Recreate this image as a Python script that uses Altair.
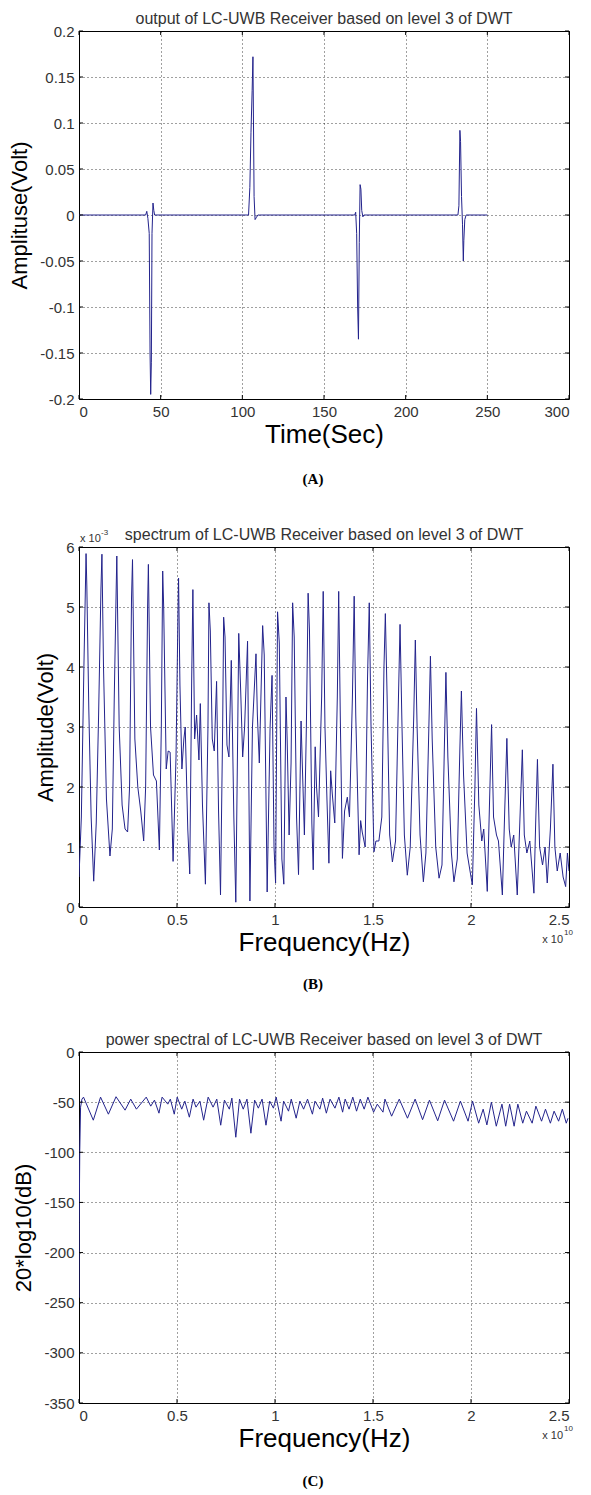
import altair as alt
import pandas as pd

# ---------------- Panel A : time-domain output ----------------
A_time = [0, 40.8, 41.5, 42.2, 43.0, 43.5, 43.9, 44.3, 44.7, 45.3, 45.8, 46.3,
          103.8, 104.6, 105.3, 106.0, 106.5, 107.2, 107.8, 108.5, 109.5, 110.5,
          168.8, 169.4, 170.0, 170.6, 171.1, 171.6, 172.1, 172.6, 173.1, 173.8, 174.4,
          232.0, 232.6, 233.2, 233.6, 234.2, 234.8, 235.3, 235.6, 236.2, 237.0, 250.0]
A_amp = [0, 0, 0.004, -0.004, -0.02, -0.15, -0.195, -0.16, -0.02, 0.013, 0.005, 0,
         0, 0.03, 0.09, 0.135, 0.172, 0.02, -0.005, -0.003, 0, 0,
         0, 0.003, -0.02, -0.1, -0.135, -0.03, 0.033, 0.028, 0.005, -0.002, 0,
         0, 0.01, 0.092, 0.08, 0.02, -0.01, -0.05, -0.028, -0.005, 0, 0]
A_xticks = [0, 50, 100, 150, 200, 250, 300]
A_yticks = [-0.2, -0.15, -0.1, -0.05, 0, 0.05, 0.1, 0.15, 0.2]

# ---------------- Panel B : amplitude spectrum (x 1e10 Hz, x 1e-3 V) ----------------
B_points = [
    (0.000, 0.5), (0.012, 1.5), (0.025, 4.0), (0.036, 5.89), (0.040, 5.35), (0.050, 3.3),
    (0.062, 1.5), (0.075, 0.43), (0.088, 1.4), (0.100, 3.2), (0.112, 5.3), (0.117, 5.88),
    (0.125, 4.0), (0.140, 1.8), (0.158, 0.85), (0.170, 1.3), (0.180, 3.5), (0.190, 5.35),
    (0.193, 5.85), (0.205, 3.0), (0.220, 1.7), (0.235, 1.3), (0.248, 1.25), (0.258, 2.0),
    (0.268, 5.15), (0.273, 5.79), (0.285, 2.8), (0.300, 2.0), (0.315, 1.6), (0.330, 1.1),
    (0.340, 2.0), (0.350, 5.0), (0.354, 5.71), (0.365, 3.0), (0.380, 2.2), (0.395, 2.1),
    (0.410, 0.95), (0.420, 3.0), (0.427, 5.6), (0.432, 5.0), (0.445, 2.3), (0.455, 2.6),
    (0.465, 2.58), (0.480, 0.76), (0.495, 2.5), (0.505, 4.9), (0.508, 5.48), (0.515, 3.7),
    (0.525, 2.3), (0.535, 2.8), (0.542, 3.0), (0.555, 1.3), (0.565, 0.55), (0.575, 3.8),
    (0.581, 5.29), (0.590, 2.8), (0.600, 3.2), (0.612, 2.45), (0.619, 3.39), (0.630, 1.7),
    (0.645, 0.38), (0.658, 3.0), (0.663, 5.07), (0.670, 4.6), (0.680, 2.8), (0.690, 2.6),
    (0.702, 3.76), (0.712, 1.6), (0.722, 0.2), (0.733, 3.0), (0.738, 4.83), (0.745, 4.5),
    (0.755, 2.7), (0.765, 2.5), (0.777, 4.11), (0.790, 1.5), (0.800, 0.08), (0.810, 3.0),
    (0.815, 4.56), (0.825, 3.6), (0.835, 2.5), (0.845, 3.0), (0.860, 4.43), (0.872, 0.1),
    (0.885, 3.0), (0.903, 4.22), (0.910, 3.2), (0.920, 2.4), (0.937, 4.69), (0.945, 4.2),
    (0.960, 0.25), (0.975, 3.0), (0.985, 3.86), (0.995, 1.0), (1.003, 0.4), (1.013, 4.92),
    (1.022, 4.4), (1.035, 0.8), (1.045, 0.38), (1.056, 3.5), (1.062, 2.8), (1.072, 1.2),
    (1.082, 2.4), (1.090, 5.07), (1.098, 4.5), (1.110, 1.5), (1.120, 0.54), (1.133, 3.1),
    (1.140, 2.3), (1.150, 1.2), (1.160, 3.0), (1.169, 5.23), (1.176, 4.6), (1.188, 1.4),
    (1.195, 0.62), (1.205, 2.67), (1.212, 2.0), (1.222, 1.5), (1.238, 3.5), (1.246, 5.26),
    (1.255, 3.0), (1.265, 1.8), (1.275, 0.73), (1.284, 2.27), (1.292, 1.9), (1.305, 1.4),
    (1.318, 3.5), (1.325, 5.26), (1.333, 3.2), (1.344, 0.81), (1.355, 1.6), (1.369, 1.83),
    (1.380, 1.5), (1.395, 3.5), (1.404, 5.18), (1.412, 3.2), (1.429, 0.87), (1.437, 1.44),
    (1.445, 1.25), (1.460, 1.0), (1.472, 3.8), (1.481, 5.07), (1.490, 3.0), (1.505, 0.92),
    (1.515, 1.1), (1.530, 1.1), (1.545, 1.5), (1.556, 4.0), (1.563, 4.89), (1.572, 3.5),
    (1.585, 1.2), (1.599, 0.75), (1.615, 1.1), (1.630, 3.5), (1.638, 4.71), (1.648, 3.0),
    (1.660, 1.2), (1.675, 0.53), (1.690, 1.0), (1.708, 3.2), (1.716, 4.45), (1.725, 3.0),
    (1.740, 1.2), (1.757, 0.42), (1.770, 0.9), (1.785, 3.0), (1.793, 4.18), (1.802, 2.8),
    (1.820, 1.0), (1.837, 0.48), (1.852, 0.7), (1.865, 2.8), (1.872, 3.91), (1.882, 2.5),
    (1.900, 0.9), (1.913, 0.42), (1.930, 0.8), (1.943, 2.6), (1.951, 3.6), (1.962, 2.2),
    (1.980, 0.9), (1.995, 0.6), (2.007, 0.37), (2.020, 2.0), (2.028, 3.31), (2.040, 1.7),
    (2.055, 1.1), (2.065, 1.3), (2.083, 0.26), (2.095, 1.8), (2.105, 3.04), (2.115, 1.5),
    (2.130, 1.2), (2.140, 1.1), (2.160, 0.2), (2.172, 1.6), (2.183, 2.81), (2.195, 1.3),
    (2.205, 1.0), (2.218, 1.2), (2.236, 0.2), (2.250, 1.5), (2.262, 2.62), (2.272, 1.2),
    (2.285, 0.9), (2.300, 1.1), (2.321, 0.23), (2.330, 1.4), (2.339, 2.46), (2.350, 1.0),
    (2.365, 0.7), (2.378, 1.0), (2.389, 0.4), (2.405, 1.3), (2.418, 2.38), (2.428, 1.0),
    (2.440, 0.6), (2.455, 0.9), (2.470, 0.5), (2.483, 0.34), (2.492, 0.9), (2.500, 0.6),
]
B_yticks = [0, 1, 2, 3, 4, 5, 6]
F_xticks = [0, 0.5, 1, 1.5, 2, 2.5]

# ---------------- Panel C : power spectrum in dB ----------------
C_points = [
    (0.000, -245), (0.001, -170), (0.004, -97), (0.008, -55), (0.015, -47), (0.023, -45),
    (0.073, -68), (0.110, -45), (0.150, -62), (0.189, -44.6), (0.235, -58), (0.264, -47),
    (0.293, -57), (0.343, -45), (0.366, -54), (0.385, -48), (0.408, -61), (0.424, -45),
    (0.453, -52), (0.466, -47), (0.486, -62), (0.501, -45), (0.524, -57), (0.540, -49),
    (0.563, -65), (0.582, -47), (0.597, -55), (0.617, -49), (0.636, -68), (0.659, -45),
    (0.684, -55), (0.703, -47), (0.723, -73), (0.742, -48), (0.767, -57), (0.780, -46),
    (0.800, -85), (0.819, -47), (0.838, -57), (0.857, -47), (0.877, -81), (0.896, -48),
    (0.915, -56), (0.934, -47), (0.954, -73), (0.973, -49), (0.992, -56), (1.006, -45),
    (1.031, -69), (1.044, -49), (1.069, -59), (1.083, -47), (1.108, -66), (1.127, -49),
    (1.146, -57), (1.166, -47), (1.191, -62), (1.204, -49), (1.229, -57), (1.243, -46),
    (1.262, -61), (1.281, -47), (1.306, -56), (1.326, -45), (1.345, -60), (1.358, -47),
    (1.378, -57), (1.397, -45), (1.416, -59), (1.435, -47), (1.455, -57), (1.474, -45),
    (1.503, -60), (1.522, -52), (1.551, -60), (1.561, -47), (1.595, -64), (1.634, -47),
    (1.676, -66), (1.715, -47), (1.753, -67.5), (1.788, -48), (1.830, -68.6), (1.865, -48),
    (1.911, -69), (1.946, -49), (1.985, -69), (2.008, -49), (2.039, -71), (2.062, -57),
    (2.081, -72.7), (2.104, -50), (2.129, -74), (2.158, -52), (2.177, -74), (2.197, -52),
    (2.220, -74), (2.239, -52), (2.264, -71), (2.283, -59), (2.312, -71), (2.331, -54),
    (2.360, -69), (2.380, -57), (2.405, -71), (2.424, -59), (2.447, -69), (2.466, -57),
    (2.486, -71), (2.495, -66),
]
C_yticks = [-350, -300, -250, -200, -150, -100, -50, 0]

# ---------------- styling ----------------
FONT = "Liberation Sans"
SERIF = "Liberation Serif"
LINE = "#23238c"
W = 490


def axis(title, values, title_size, title_pad):
    return alt.Axis(
        title=title, values=values, labelExpr="'' + datum.value",
        grid=True, gridDash=[1, 3], gridColor="#000", gridOpacity=0.75, gridWidth=1,
        tickSize=0, domain=False,
        labelFont=FONT, labelFontSize=15, labelColor="#333", labelPadding=5,
        titleFont=FONT, titleFontSize=title_size, titleFontWeight="normal",
        titleColor="#000", titlePadding=title_pad,
    )


def text_layer(txt, px, py, size, align, font=FONT, weight="normal", color="#333"):
    return alt.Chart(pd.DataFrame({"t": [txt]})).mark_text(
        font=font, fontSize=size, fontWeight=weight, align=align,
        baseline="middle", color=color).encode(
        text="t:N", x=alt.value(px), y=alt.value(py))


def panel(df, h, xdom, ydom, xticks, yticks, xtitle, ytitle, title, caption,
          cap_dy, notes):
    ax_x = axis(xtitle, xticks, 26, 2)
    ax_y = axis(ytitle, yticks, 22, 8)
    sx = alt.Scale(domain=xdom, nice=False, zero=False)
    sy = alt.Scale(domain=ydom, nice=False, zero=False)
    line = alt.Chart(df).mark_line(color=LINE, strokeWidth=1, clip=True).encode(
        x=alt.X("x:Q", scale=sx, axis=ax_x),
        y=alt.Y("y:Q", scale=sy, axis=ax_y),
    )
    xt = pd.DataFrame({"x": xticks})
    yt = pd.DataFrame({"y": yticks})
    rule = dict(color="#000", strokeWidth=1)
    tb = alt.Chart(xt).mark_rule(**rule).encode(
        x=alt.X("x:Q", scale=sx, axis=ax_x), y=alt.value(h), y2=alt.value(h - 4))
    tt = alt.Chart(xt).mark_rule(**rule).encode(
        x=alt.X("x:Q", scale=sx, axis=ax_x), y=alt.value(0), y2=alt.value(4))
    tl = alt.Chart(yt).mark_rule(**rule).encode(
        y=alt.Y("y:Q", scale=sy, axis=ax_y), x=alt.value(0), x2=alt.value(4))
    tr = alt.Chart(yt).mark_rule(**rule).encode(
        y=alt.Y("y:Q", scale=sy, axis=ax_y), x=alt.value(W), x2=alt.value(W - 4))
    layers = [line, tb, tt, tl, tr,
              text_layer(title, W / 2, -12, 16, "center"),
              text_layer(caption, 234, h + cap_dy, 15, "center", font=SERIF,
                         weight="bold", color="#000")]
    for txt, px, py, size, align in notes:
        layers.append(text_layer(txt, px, py, size, align))
    return alt.layer(*layers).properties(width=W, height=h)


dfA = pd.DataFrame({"x": A_time, "y": A_amp})
dfB = pd.DataFrame({"x": [p[0] for p in B_points], "y": [p[1] for p in B_points]})
dfC = pd.DataFrame({"x": [p[0] for p in C_points], "y": [p[1] for p in C_points]})

hA, hB, hC = 368, 360, 351


def exp_notes(h):
    return [("x 10", W - 6, h + 33, 11, "right"), ("10", W - 5, h + 26, 8, "left")]


pA = panel(dfA, hA, [0, 300], [-0.2, 0.2], A_xticks, A_yticks, "Time(Sec)",
           "Amplituse(Volt)", "output of LC-UWB Receiver based on level 3 of DWT", "(A)",
           80, [])
pB = panel(dfB, hB, [0, 2.5], [0, 6], F_xticks, B_yticks, "Frequency(Hz)",
           "Amplitude(Volt)", "spectrum of LC-UWB Receiver based on level 3 of DWT", "(B)",
           77, [("x 10", 1, -8, 11, "left"), ("-3", 22, -14, 8, "left")] + exp_notes(hB))
pC = panel(dfC, hC, [0, 2.5], [-350, 0], F_xticks, C_yticks, "Frequency(Hz)",
           "20*log10(dB)", "power spectral of LC-UWB Receiver based on level 3 of DWT", "(C)",
           78, exp_notes(hC))

chart = alt.vconcat(pA, pB, pC, spacing=38).configure_view(
    stroke="#000", strokeWidth=1).properties(
    background="#ffffff", padding={"left": 0, "top": 2, "right": 5, "bottom": 0})

chart.save("out.html", embed_options={"renderer": "svg", "actions": False})
